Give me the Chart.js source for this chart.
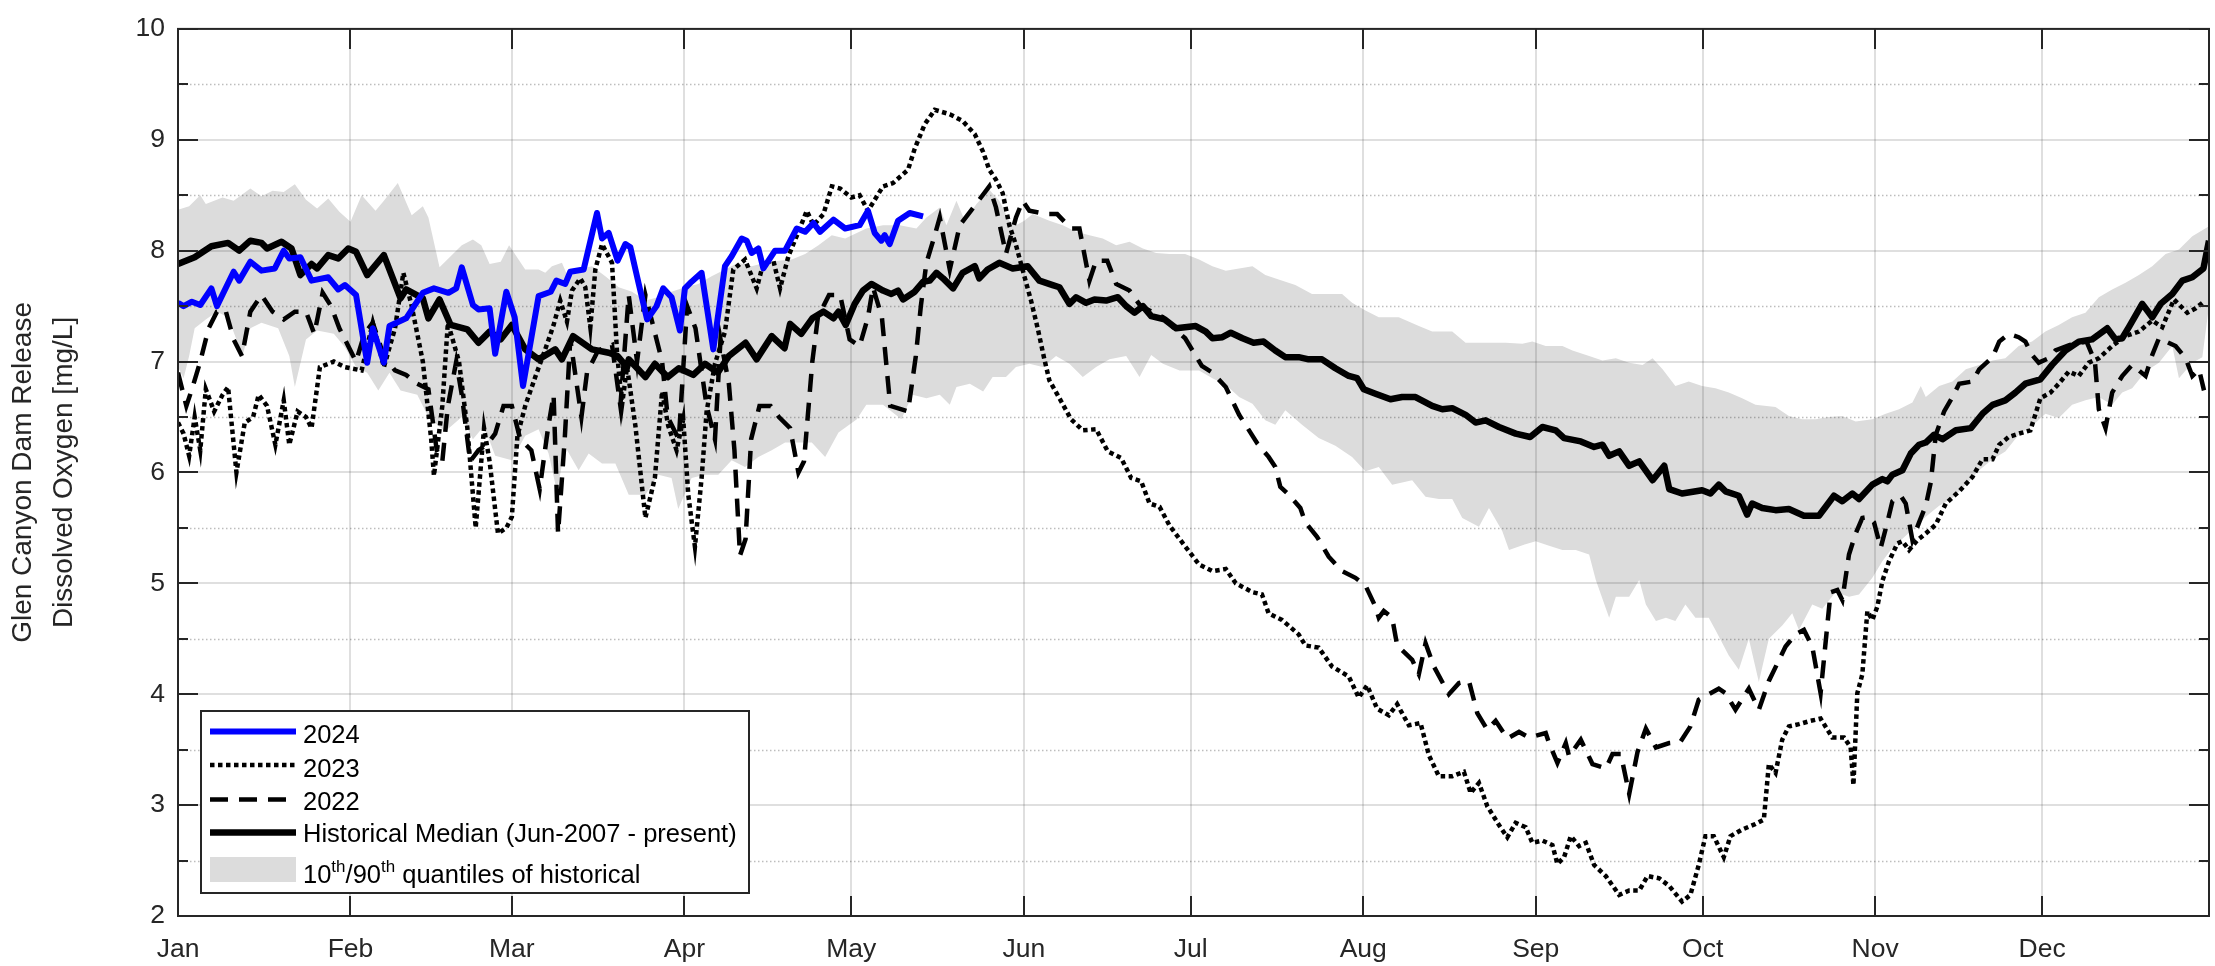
<!DOCTYPE html>
<html>
<head>
<meta charset="utf-8">
<script src="https://cdn.jsdelivr.net/npm/chart.js@4.4.1/dist/chart.umd.min.js"></script>
<style>
  html, body { margin: 0; padding: 0; background: #ffffff; }
  #wrap { width: 2215px; height: 966px; position: relative; }
</style>
</head>
<body>
<div id="wrap"><canvas id="chart"></canvas></div>
<script>
// x axis is day of year (0 = Jan 1, 365 = Dec 31)
const monthStarts = [0, 31, 60, 91, 121, 152, 182, 213, 244, 274, 305, 335];
const monthLabels = ['Jan', 'Feb', 'Mar', 'Apr', 'May', 'Jun', 'Jul', 'Aug', 'Sep', 'Oct', 'Nov', 'Dec'];
const yTicks = [2, 3, 4, 5, 6, 7, 8, 9, 10];

const days2024 = [0, 1, 2.5, 4, 6, 7, 10, 11, 13, 15, 17.4, 19, 20, 22, 24, 27, 28.8, 30, 32, 34, 35, 37, 38, 41, 44, 46, 48.6, 50, 51, 53, 54, 56, 57, 59, 60.5, 62, 64.8, 67, 68, 69.6, 70.5, 72.9, 75.3, 76.2, 77.4, 79, 80.4, 81.3, 82.8, 84.3, 86, 87.2, 88.7, 90.2, 91.1, 92.3, 94.1, 96.2, 98.3, 99.5, 101.3, 102.2, 103.1, 104.3, 105.2, 107.3, 109.1, 111.2, 112.7, 114.2, 115.4, 117.8, 119.9, 122.5, 124, 125.2, 126.4, 127, 127.9, 129.4, 131.5, 133.9];
const do2024 = [7.53, 7.50, 7.54, 7.51, 7.66, 7.50, 7.81, 7.73, 7.90, 7.82, 7.84, 8.00, 7.93, 7.94, 7.73, 7.76, 7.65, 7.69, 7.60, 6.99, 7.30, 6.99, 7.32, 7.39, 7.62, 7.66, 7.62, 7.66, 7.85, 7.51, 7.47, 7.48, 7.07, 7.63, 7.40, 6.78, 7.59, 7.63, 7.73, 7.70, 7.81, 7.83, 8.34, 8.11, 8.16, 7.91, 8.06, 8.03, 7.70, 7.38, 7.50, 7.66, 7.58, 7.28, 7.66, 7.72, 7.80, 7.11, 7.86, 7.95, 8.11, 8.09, 7.98, 8.02, 7.84, 8.00, 8.00, 8.20, 8.17, 8.25, 8.17, 8.28, 8.20, 8.23, 8.36, 8.16, 8.09, 8.14, 8.06, 8.27, 8.34, 8.31];

const days2023 = [0, 1, 2, 3, 4, 5, 6.5, 8, 9, 10.5, 12, 13.5, 14.5, 16, 17.5, 19, 20, 21.5, 23, 24, 25.5, 28, 30, 33, 35, 36, 37, 39, 40.5, 42, 44, 45.5, 46, 47.5, 48.5, 50.5, 52, 53.5, 55, 56, 57.5, 59, 60, 61, 62.4, 64.2, 66, 67.5, 68.7, 69.9, 70.8, 72.3, 73.2, 74.1, 75, 76.2, 78, 78.9, 79.8, 80.7, 82.2, 84, 85.7, 87, 88.1, 89.6, 90.8, 91.7, 92.9, 94.1, 95, 96.5, 98.3, 99.8, 101.9, 104, 105.2, 107, 108.2, 109.7, 111.5, 113, 114.2, 116, 117.5, 119, 121, 122.5, 124, 126.7, 128.5, 131.2, 132.4, 134.2, 136, 138.7, 141, 143.2, 144.7, 145.8, 147, 148.2, 149.4, 150.6, 152.1, 153.3, 154.5, 155.7, 156.6, 158.4, 160.5, 162.6, 165, 167.1, 169.5, 171.3, 173.1, 174.6, 176.4, 178.2, 180.6, 183.5, 185.9, 188.3, 190.1, 193.1, 194.8, 196, 198.4, 201.4, 202.6, 205, 207.4, 210.4, 212.2, 213.7, 215.5, 217.6, 219.1, 221.2, 223.3, 224.8, 226.6, 229, 231.1, 232.3, 233.8, 235.3, 237.4, 238.9, 240.4, 242.2, 243.4, 245.2, 247, 247.9, 249.1, 250.3, 251.8, 253, 254.5, 256.6, 259, 260.8, 262.6, 264.1, 266.2, 268, 270.3, 271.8, 273.3, 274.5, 276, 277.8, 279, 281.1, 283.5, 285, 285.9, 287.1, 288.3, 289.5, 291.3, 293.4, 295.2, 297.3, 299.4, 300.6, 301.1, 301.8, 302.7, 303.6, 304.5, 305.4, 306.3, 307.5, 309, 309.9, 311.1, 312.6, 314.1, 315.9, 317.7, 320.1, 322.5, 324.3, 326.1, 327.3, 329, 330.8, 332.9, 334.7, 336.5, 338, 339.8, 341.6, 343.4, 345.2, 347.6, 350, 352.4, 354.8, 356.6, 358.7, 361.1, 362.6, 364.1];
const do2023 = [6.45, 6.35, 6.15, 6.50, 6.20, 6.75, 6.55, 6.70, 6.77, 6.00, 6.45, 6.50, 6.70, 6.60, 6.25, 6.65, 6.25, 6.55, 6.50, 6.40, 6.95, 7.00, 6.95, 6.92, 7.35, 7.15, 6.95, 7.30, 7.80, 7.50, 7.00, 6.30, 5.97, 6.60, 7.35, 7.00, 6.40, 5.50, 6.40, 6.10, 5.45, 5.50, 5.60, 6.33, 6.60, 6.86, 7.11, 7.33, 7.55, 7.36, 7.64, 7.75, 7.67, 7.31, 7.83, 8.06, 7.89, 7.08, 6.61, 6.95, 6.42, 5.59, 5.95, 6.73, 6.42, 6.20, 6.48, 5.80, 5.33, 5.95, 6.55, 6.98, 7.27, 7.83, 7.92, 7.66, 7.89, 7.91, 7.66, 7.95, 8.17, 8.36, 8.23, 8.33, 8.58, 8.56, 8.48, 8.50, 8.36, 8.58, 8.61, 8.73, 8.92, 9.14, 9.27, 9.23, 9.17, 9.05, 8.89, 8.73, 8.64, 8.52, 8.23, 8.05, 7.77, 7.55, 7.30, 7.02, 6.83, 6.67, 6.48, 6.38, 6.39, 6.19, 6.13, 5.95, 5.92, 5.72, 5.69, 5.52, 5.36, 5.17, 5.11, 5.13, 5.00, 4.92, 4.90, 4.73, 4.67, 4.54, 4.44, 4.42, 4.25, 4.16, 3.97, 4.08, 3.87, 3.81, 3.91, 3.72, 3.74, 3.45, 3.26, 3.26, 3.30, 3.11, 3.20, 2.99, 2.82, 2.71, 2.84, 2.80, 2.66, 2.68, 2.64, 2.47, 2.53, 2.72, 2.63, 2.66, 2.46, 2.36, 2.19, 2.23, 2.23, 2.36, 2.34, 2.27, 2.13, 2.19, 2.46, 2.72, 2.72, 2.53, 2.72, 2.78, 2.83, 2.87, 3.37, 3.29, 3.59, 3.71, 3.73, 3.76, 3.78, 3.61, 3.61, 3.52, 3.18, 4.01, 4.18, 4.75, 4.67, 4.79, 5.02, 5.20, 5.36, 5.38, 5.30, 5.39, 5.45, 5.53, 5.72, 5.83, 5.96, 6.12, 6.12, 6.25, 6.32, 6.35, 6.38, 6.67, 6.72, 6.80, 6.91, 6.87, 6.99, 7.03, 7.14, 7.23, 7.27, 7.37, 7.31, 7.56, 7.44, 7.48, 7.54];

const days2022 = [0, 1.5, 2.5, 4, 5.5, 7, 8.5, 10, 11.5, 13, 15, 17, 19, 21, 23, 24.5, 26, 27.5, 29, 30.5, 32, 33.5, 35, 37, 39, 41, 43, 45, 46.5, 47.5, 48.5, 50, 51, 52.5, 54, 55.5, 57, 58.5, 60, 61.5, 63.5, 65, 66.5, 67.5, 68.3, 69.5, 70.5, 72.5, 73.5, 75.5, 78, 79.5, 81, 82.5, 84, 85, 87, 88, 90, 91.5, 93, 95, 96.5, 97.5, 99, 100, 101, 102, 103, 104.5, 106.5, 108, 110, 111.5, 112.5, 114, 115, 117, 119, 120.7, 122.5, 124, 124.9, 126.5, 128, 131.2, 132.6, 133.5, 134.5, 136, 136.9, 138.7, 140.5, 143.4, 145.8, 147, 148.8, 150.6, 151.8, 153, 156, 158, 160.5, 162, 163.8, 165, 167, 168.6, 171, 173, 175, 177, 179, 181, 184, 185.9, 188.3, 190.7, 194, 196, 197.2, 198.1, 199.6, 201.7, 202.6, 204.7, 206.8, 209.2, 211.6, 213.4, 215.2, 215.8, 216.7, 218.2, 219.1, 221.8, 223, 224.2, 225.7, 228.4, 230.2, 232, 233.5, 235.3, 236.8, 238.9, 241, 242.8, 245.8, 246.4, 247.9, 249.4, 250, 252.1, 254.2, 256.6, 257.8, 259.3, 260.8, 262.3, 263.8, 265.6, 268, 270, 271.8, 273.3, 275.1, 276.9, 278.1, 279.9, 282.3, 284.1, 285.9, 288.9, 290.7, 292.2, 293.7, 295.2, 296.4, 297, 298.2, 299.1, 300.3, 301.5, 302.7, 303.9, 304.8, 306, 307.2, 308.1, 309.6, 310.5, 311.7, 312.9, 314.1, 315, 315.9, 317.4, 318.9, 320.1, 322.5, 323.7, 326.1, 327.3, 329, 330.8, 332, 333.2, 334.4, 336.2, 337.4, 340, 343, 344.5, 345.2, 346.4, 347.6, 349.4, 351.2, 353.6, 354.8, 356, 359, 360.8, 362, 363.2, 364.1];
const do2022 = [6.90, 6.60, 6.75, 7.00, 7.30, 7.45, 7.47, 7.20, 7.05, 7.45, 7.60, 7.45, 7.38, 7.45, 7.45, 7.25, 7.62, 7.50, 7.30, 7.15, 7.00, 7.25, 7.35, 7.05, 6.92, 6.88, 6.80, 6.75, 6.20, 6.10, 6.60, 7.00, 6.70, 6.10, 6.20, 6.25, 6.35, 6.60, 6.60, 6.30, 6.20, 5.85, 6.40, 6.70, 5.45, 6.30, 7.20, 6.50, 6.90, 7.10, 7.15, 6.60, 7.60, 7.00, 7.60, 7.40, 7.00, 6.50, 6.30, 7.50, 7.30, 6.60, 6.30, 7.20, 6.80, 6.20, 5.25, 5.40, 6.30, 6.60, 6.60, 6.50, 6.40, 6.00, 6.10, 7.00, 7.40, 7.60, 7.60, 7.20, 7.14, 7.40, 7.67, 7.40, 6.60, 6.55, 7.05, 7.50, 7.89, 8.14, 8.30, 7.83, 8.23, 8.42, 8.58, 8.39, 7.97, 8.30, 8.45, 8.36, 8.33, 8.33, 8.20, 8.20, 7.73, 7.91, 7.91, 7.70, 7.64, 7.50, 7.45, 7.40, 7.30, 7.21, 6.96, 6.90, 6.77, 6.52, 6.26, 6.14, 6.05, 5.87, 5.80, 5.68, 5.55, 5.42, 5.24, 5.11, 5.05, 4.98, 4.79, 4.69, 4.75, 4.69, 4.44, 4.31, 4.18, 4.46, 4.25, 4.00, 4.10, 4.12, 3.83, 3.68, 3.76, 3.60, 3.66, 3.61, 3.65, 3.56, 3.38, 3.56, 3.44, 3.59, 3.37, 3.33, 3.46, 3.46, 3.10, 3.48, 3.69, 3.52, 3.56, 3.57, 3.71, 3.95, 4.00, 4.05, 4.01, 3.86, 4.05, 3.86, 4.12, 4.43, 4.54, 4.58, 4.43, 4.01, 4.62, 4.92, 4.94, 4.85, 5.26, 5.45, 5.59, 5.60, 5.55, 5.32, 5.55, 5.74, 5.79, 5.72, 5.39, 5.55, 5.70, 5.91, 6.34, 6.55, 6.68, 6.80, 6.82, 6.93, 7.04, 7.18, 7.25, 7.22, 7.18, 7.06, 6.99, 7.03, 7.10, 7.15, 7.18, 7.00, 6.57, 6.40, 6.72, 6.87, 6.97, 6.87, 7.06, 7.21, 7.14, 7.03, 6.87, 6.93, 6.74];

const daysMedian = [0, 3, 6, 9, 11, 13, 15, 16, 18.6, 20.4, 22, 24, 25, 27, 28.8, 30.6, 32, 34, 37, 40, 41, 44, 45, 47, 49, 52, 54, 56, 58, 60, 62.4, 64.8, 67.8, 69, 71, 74.4, 77.4, 79, 80.7, 81, 84, 85.7, 88, 90, 92.6, 94.7, 97, 99, 102, 104, 106.7, 109, 110, 112, 114, 116, 117.8, 118.7, 120, 121.6, 123.1, 124.6, 126.7, 128.2, 129.4, 130.3, 132.4, 133.9, 135.1, 136.3, 137.5, 139.3, 141, 143.2, 144, 145.5, 147.6, 150, 152.7, 154.8, 157.2, 158.4, 160.2, 161.4, 163.2, 164.7, 166.8, 168.9, 170.4, 171.9, 173.4, 174.9, 177.3, 179.4, 182.9, 184.7, 185.9, 187.7, 189.2, 191.3, 193.3, 195.1, 197.2, 199, 201.4, 203.2, 205.6, 208, 210.4, 211.9, 213.1, 215.2, 217.9, 220, 222.4, 225.4, 227.2, 229, 231.4, 233.2, 235, 237.4, 240.4, 243, 245.2, 247.6, 249.1, 252.1, 254.5, 256, 257.2, 259, 260.8, 262.6, 265, 267.1, 268, 270.3, 273.9, 275.4, 276.9, 278.1, 280.5, 282, 282.9, 284.7, 287.1, 289.5, 292.2, 294.9, 297.6, 299.1, 300.9, 302.1, 304.5, 306.3, 307.2, 308.1, 309.9, 311.4, 312.9, 314.1, 315.6, 317.1, 319.5, 322.2, 324.3, 326.1, 328.4, 330.2, 332, 334.7, 336.8, 339.2, 341.6, 344, 346.7, 348.2, 349.4, 350.6, 353, 354.8, 356.3, 358.4, 360.2, 362, 364, 365];
const doMedian = [7.88, 7.94, 8.04, 8.07, 8.00, 8.09, 8.07, 8.02, 8.08, 8.02, 7.78, 7.88, 7.84, 7.96, 7.93, 8.02, 7.99, 7.78, 7.96, 7.57, 7.65, 7.57, 7.39, 7.56, 7.33, 7.29, 7.17, 7.27, 7.20, 7.33, 7.11, 7.02, 7.11, 7.02, 7.23, 7.11, 7.08, 7.05, 6.95, 7.02, 6.86, 6.98, 6.86, 6.94, 6.88, 6.98, 6.90, 7.05, 7.17, 7.02, 7.23, 7.12, 7.34, 7.25, 7.39, 7.45, 7.39, 7.45, 7.33, 7.52, 7.64, 7.70, 7.64, 7.61, 7.64, 7.56, 7.63, 7.72, 7.73, 7.80, 7.75, 7.66, 7.80, 7.86, 7.75, 7.83, 7.89, 7.84, 7.86, 7.73, 7.69, 7.67, 7.52, 7.58, 7.53, 7.56, 7.55, 7.58, 7.50, 7.44, 7.50, 7.41, 7.38, 7.30, 7.32, 7.27, 7.21, 7.22, 7.26, 7.21, 7.17, 7.18, 7.10, 7.04, 7.04, 7.02, 7.02, 6.94, 6.87, 6.85, 6.75, 6.71, 6.66, 6.68, 6.68, 6.60, 6.57, 6.58, 6.52, 6.45, 6.47, 6.41, 6.35, 6.32, 6.41, 6.38, 6.31, 6.28, 6.23, 6.25, 6.15, 6.19, 6.06, 6.10, 5.93, 6.06, 5.85, 5.81, 5.84, 5.81, 5.89, 5.83, 5.79, 5.62, 5.72, 5.68, 5.66, 5.67, 5.61, 5.61, 5.79, 5.74, 5.81, 5.76, 5.89, 5.94, 5.92, 5.98, 6.02, 6.17, 6.25, 6.27, 6.34, 6.30, 6.38, 6.40, 6.53, 6.61, 6.65, 6.72, 6.80, 6.84, 6.97, 7.10, 7.18, 7.20, 7.30, 7.20, 7.21, 7.31, 7.52, 7.40, 7.52, 7.61, 7.73, 7.76, 7.84, 8.09];

const daysQ90 = [0, 2, 4, 5, 8, 10, 13, 15, 17, 19, 21, 23, 25, 27, 29, 31, 33, 35.5, 37, 39.5, 42, 44, 45, 47, 49, 51, 53, 54.5, 56, 58, 59.5, 62.4, 64.8, 66, 67.2, 69, 70.2, 72, 74.4, 76.8, 79.2, 81.6, 84, 86.3, 88.7, 91.1, 93.5, 95.9, 98.3, 100.7, 103.1, 105.5, 107.9, 110.3, 112.7, 115.1, 117.5, 119.9, 123.7, 126.7, 129.7, 132.7, 134.5, 136.9, 138.1, 139.9, 141.4, 143.5, 145.8, 147.6, 149.4, 150.6, 152.1, 153.6, 156.6, 159, 161.4, 163.8, 166.2, 168.6, 171, 173.4, 175.8, 178.2, 181, 183.5, 185.9, 188.3, 190.7, 193.1, 195.4, 197.8, 200.8, 203.8, 206.2, 209.2, 211, 213.4, 215.8, 219.4, 223, 225.4, 229, 231.4, 235, 238.6, 241.6, 243.4, 245.8, 248.8, 250.6, 253.6, 256, 258.4, 260.8, 263.2, 265, 266.8, 269.1, 271.5, 273.9, 276.3, 278.7, 281.1, 283.5, 287.1, 289.5, 291.9, 294.3, 296.7, 299.1, 301.5, 304.5, 306.9, 309.3, 311.7, 313.2, 314.1, 316.5, 318.9, 321.3, 323.7, 326.1, 328.4, 330.8, 333.2, 335.6, 338, 340.4, 342.8, 345.2, 347.6, 350, 352.4, 354.8, 357.2, 359.6, 362, 365];
const doQ90 = [8.37, 8.40, 8.50, 8.42, 8.48, 8.45, 8.56, 8.49, 8.54, 8.53, 8.60, 8.46, 8.38, 8.47, 8.35, 8.26, 8.50, 8.36, 8.45, 8.61, 8.32, 8.40, 8.30, 7.85, 7.95, 8.05, 8.10, 8.05, 7.88, 7.90, 8.05, 7.83, 7.83, 7.80, 7.86, 7.89, 7.75, 7.83, 7.86, 7.77, 7.67, 7.63, 7.55, 7.58, 7.63, 7.67, 7.70, 7.77, 7.83, 7.89, 7.86, 7.89, 7.91, 7.92, 7.97, 8.05, 8.14, 8.11, 8.20, 8.23, 8.23, 8.20, 8.30, 8.39, 8.23, 8.45, 8.27, 8.42, 8.55, 8.45, 8.27, 8.23, 8.27, 8.33, 8.27, 8.23, 8.17, 8.14, 8.11, 8.05, 8.08, 8.02, 7.98, 7.97, 7.97, 7.92, 7.86, 7.82, 7.84, 7.86, 7.78, 7.74, 7.69, 7.61, 7.61, 7.61, 7.53, 7.46, 7.40, 7.40, 7.32, 7.27, 7.27, 7.17, 7.17, 7.17, 7.16, 7.18, 7.14, 7.14, 7.10, 7.05, 7.01, 7.03, 6.99, 6.97, 7.03, 6.93, 6.78, 6.82, 6.78, 6.76, 6.72, 6.67, 6.61, 6.59, 6.51, 6.48, 6.48, 6.50, 6.51, 6.46, 6.48, 6.53, 6.57, 6.63, 6.78, 6.68, 6.78, 6.82, 6.93, 6.97, 7.01, 7.03, 7.14, 7.18, 7.27, 7.33, 7.40, 7.44, 7.58, 7.65, 7.71, 7.78, 7.86, 7.97, 8.01, 8.13, 8.22];

const daysQ10 = [0, 1, 2, 3, 5, 7, 9, 10.5, 11.5, 13, 15, 18, 20, 21, 23, 25, 28, 30, 32, 34, 36, 38, 40, 43, 45, 48, 51, 53, 55, 57, 60, 62.4, 64.8, 66.6, 68.1, 69.6, 72, 73.8, 76.2, 78.6, 81, 84, 86.3, 88.7, 89.9, 92.3, 94.7, 97.1, 99.5, 101.9, 104.3, 106.7, 109.1, 111.5, 113.9, 116.3, 118.7, 122, 123.7, 126.7, 130, 132, 134.5, 136.9, 138.7, 139.9, 142.3, 144.7, 146.4, 148.8, 150.6, 153, 155.4, 157.8, 160.2, 162.6, 165, 167.4, 170.4, 172.8, 174.9, 177, 180, 183.5, 185.9, 188.3, 190.7, 193.1, 195.4, 197.2, 199, 202, 205, 208, 211, 213.4, 215.8, 218.2, 221.8, 224.2, 226.6, 229, 230.8, 233.8, 235.6, 238, 239.2, 242, 244, 246.4, 248.8, 251.2, 253.6, 254.8, 257.2, 258.4, 260.8, 262.6, 263.8, 265.6, 267.4, 269.1, 270.9, 272.7, 275.1, 276.3, 278.7, 280.5, 282.3, 284.1, 285.9, 288.3, 290.1, 291.3, 293.7, 295.5, 297.9, 300.3, 302.1, 304.5, 306.3, 308.1, 310.5, 312.3, 314.1, 316.5, 318.9, 321.3, 323.7, 326.1, 328.4, 330.8, 333.2, 335.6, 338, 340.4, 342.8, 345.2, 347.6, 349.4, 351.2, 353.6, 356, 358.4, 359.6, 362, 363.8, 365];
const doQ10 = [6.95, 6.85, 7.05, 7.30, 7.38, 7.45, 7.40, 7.20, 7.04, 7.30, 7.35, 7.30, 7.05, 6.77, 7.20, 7.28, 7.25, 7.13, 6.95, 6.90, 6.74, 6.90, 6.74, 6.70, 6.50, 6.37, 6.50, 6.30, 6.42, 6.15, 6.11, 6.33, 6.39, 6.17, 5.83, 6.23, 6.02, 6.17, 6.08, 6.08, 5.80, 5.80, 5.98, 5.95, 5.67, 5.95, 5.98, 5.98, 6.11, 6.05, 6.14, 6.20, 6.27, 6.27, 6.27, 6.14, 6.36, 6.48, 6.61, 6.61, 6.48, 6.70, 6.67, 6.70, 6.61, 6.77, 6.80, 6.73, 6.86, 6.86, 6.95, 6.98, 6.95, 7.05, 6.98, 6.86, 6.95, 7.02, 7.05, 6.86, 7.06, 6.98, 6.92, 6.92, 6.85, 6.79, 6.68, 6.62, 6.47, 6.43, 6.56, 6.43, 6.31, 6.24, 6.14, 6.01, 6.05, 5.89, 5.93, 5.78, 5.76, 5.76, 5.59, 5.51, 5.68, 5.47, 5.30, 5.35, 5.38, 5.34, 5.30, 5.30, 5.26, 5.03, 4.69, 4.88, 4.88, 5.03, 4.81, 4.66, 4.69, 4.66, 4.81, 4.69, 4.69, 4.58, 4.35, 4.22, 4.50, 4.11, 4.50, 4.62, 4.73, 4.58, 4.81, 4.77, 4.92, 4.88, 4.90, 5.05, 5.20, 5.32, 5.43, 5.51, 5.60, 5.70, 5.77, 5.89, 6.02, 6.12, 6.19, 6.34, 6.42, 6.53, 6.49, 6.61, 6.65, 6.68, 6.61, 6.72, 6.76, 6.91, 6.99, 7.14, 6.85, 6.99, 7.04, 7.50];

const seriesNames = ['2024', '2023', '2022', 'Historical Median (Jun-2007 - present)'];

const FONT = '"Liberation Sans", Arial, Helvetica, sans-serif';
const AXIS_COLOR = '#262626';

function toPoints(days, vals) {
    return days.map((d, i) => ({ x: d, y: vals[i] }));
}

// grid over the quantile band, under the lines
const gridPlugin = {
    id: 'matlabGrid',
    afterDatasetDraw(chart, args) {
        if (args.index !== 4) {
            return;
        }
        const ctx = chart.ctx;
        const area = chart.chartArea;
        const xs = chart.scales.x;
        const ys = chart.scales.y;
        ctx.save();
        // minor y grid, dotted
        ctx.strokeStyle = 'rgba(38,38,38,0.3)';
        ctx.lineWidth = 1.5;
        ctx.setLineDash([1.5, 2.5]);
        for (let v = 2.5; v < 10; v += 1) {
            const y = Math.round(ys.getPixelForValue(v)) + 0.5;
            ctx.beginPath();
            ctx.moveTo(area.left, y);
            ctx.lineTo(area.right, y);
            ctx.stroke();
        }
        // major grid
        ctx.setLineDash([]);
        ctx.strokeStyle = 'rgba(38,38,38,0.15)';
        ctx.lineWidth = 2;
        yTicks.forEach(v => {
            const y = Math.round(ys.getPixelForValue(v));
            ctx.beginPath();
            ctx.moveTo(area.left, y);
            ctx.lineTo(area.right, y);
            ctx.stroke();
        });
        monthStarts.forEach(d => {
            const x = Math.round(xs.getPixelForValue(d));
            ctx.beginPath();
            ctx.moveTo(x, area.top);
            ctx.lineTo(x, area.bottom);
            ctx.stroke();
        });
        ctx.restore();
    }
};

// box, inward ticks, y label and legend
const framePlugin = {
    id: 'matlabFrame',
    afterDraw(chart) {
        const ctx = chart.ctx;
        const area = chart.chartArea;
        const xs = chart.scales.x;
        const ys = chart.scales.y;
        ctx.save();
        ctx.strokeStyle = AXIS_COLOR;
        ctx.lineWidth = 2;
        ctx.strokeRect(area.left, area.top, area.right - area.left, area.bottom - area.top);

        ctx.beginPath();
        for (let v = 2; v <= 10; v += 0.5) {
            const y = Math.round(ys.getPixelForValue(v));
            const len = Number.isInteger(v) ? 20 : 10;
            ctx.moveTo(area.left, y);
            ctx.lineTo(area.left + len, y);
            ctx.moveTo(area.right, y);
            ctx.lineTo(area.right - len, y);
        }
        monthStarts.forEach(d => {
            const x = Math.round(xs.getPixelForValue(d));
            ctx.moveTo(x, area.bottom);
            ctx.lineTo(x, area.bottom - 20);
            ctx.moveTo(x, area.top);
            ctx.lineTo(x, area.top + 20);
        });
        ctx.stroke();

        // y axis label, two lines
        ctx.fillStyle = AXIS_COLOR;
        ctx.font = '28px ' + FONT;
        ctx.textAlign = 'center';
        ctx.textBaseline = 'alphabetic';
        const midY = (area.top + area.bottom) / 2;
        [['Glen Canyon Dam Release', 31], ['Dissolved Oxygen [mg/L]', 72]].forEach(([txt, bx]) => {
            ctx.save();
            ctx.translate(bx, midY);
            ctx.rotate(-Math.PI / 2);
            ctx.fillText(txt, 0, 0);
            ctx.restore();
        });

        // legend
        const lx = 201, ly = 711, lw = 548, lh = 182;
        ctx.fillStyle = '#ffffff';
        ctx.fillRect(lx, ly, lw, lh);
        ctx.strokeStyle = AXIS_COLOR;
        ctx.lineWidth = 2;
        ctx.strokeRect(lx, ly, lw, lh);

        const sx0 = 210, sx1 = 296, tx = 303;
        const rows = [
            { y: 731.5, base: 743, color: '#0000ff', width: 6, dash: [] },
            { y: 765, base: 777, color: '#000000', width: 4.5, dash: [4.5, 3.5] },
            { y: 799.5, base: 810, color: '#000000', width: 4.5, dash: [18, 11] },
            { y: 832.5, base: 842, color: '#000000', width: 6.5, dash: [] }
        ];
        ctx.font = '25.5px ' + FONT;
        ctx.textAlign = 'left';
        rows.forEach((r, i) => {
            ctx.beginPath();
            ctx.strokeStyle = r.color;
            ctx.lineWidth = r.width;
            ctx.setLineDash(r.dash);
            ctx.moveTo(sx0, r.y);
            ctx.lineTo(sx1, r.y);
            ctx.stroke();
            ctx.fillStyle = '#000000';
            ctx.fillText(seriesNames[i], tx, r.base);
        });
        ctx.setLineDash([]);
        ctx.fillStyle = '#dcdcdc';
        ctx.fillRect(sx0, 857, sx1 - sx0, 25);

        // 10th/90th with superscripts
        ctx.fillStyle = '#000000';
        let cx = tx;
        const base = 883;
        const parts = [['10', false], ['th', true], ['/90', false], ['th', true], [' quantiles of historical', false]];
        parts.forEach(([t, sup]) => {
            ctx.font = (sup ? '17px ' : '25.5px ') + FONT;
            ctx.fillText(t, cx, sup ? base - 11 : base);
            cx += ctx.measureText(t).width;
        });
        ctx.restore();
    }
};

const ctx = document.getElementById('chart').getContext('2d');
const chart = new Chart(ctx, {
    type: 'line',
    data: {
        datasets: [
            {
                label: seriesNames[0],
                data: toPoints(days2024, do2024),
                borderColor: '#0000ff',
                borderWidth: 6,
                borderJoinStyle: 'round',
                pointRadius: 0,
                fill: false
            },
            {
                label: seriesNames[1],
                data: toPoints(days2023, do2023),
                borderColor: '#000000',
                borderWidth: 4.5,
                borderDash: [4.5, 3.5],
                pointRadius: 0,
                fill: false
            },
            {
                label: seriesNames[2],
                data: toPoints(days2022, do2022),
                borderColor: '#000000',
                borderWidth: 4.5,
                borderDash: [18, 11],
                pointRadius: 0,
                fill: false
            },
            {
                label: seriesNames[3],
                data: toPoints(daysMedian, doMedian),
                borderColor: '#000000',
                borderWidth: 6.5,
                borderJoinStyle: 'round',
                pointRadius: 0,
                fill: false
            },
            {
                label: '10th quantile',
                data: toPoints(daysQ10, doQ10),
                borderColor: 'rgba(0,0,0,0)',
                borderWidth: 0,
                pointRadius: 0,
                fill: false
            },
            {
                label: '90th quantile',
                data: toPoints(daysQ90, doQ90),
                borderColor: 'rgba(0,0,0,0)',
                borderWidth: 0,
                pointRadius: 0,
                backgroundColor: '#dcdcdc',
                fill: 4
            }
        ]
    },
    options: {
        responsive: true,
        maintainAspectRatio: false,
        animation: false,
        events: [],
        layout: {
            padding: { top: 17, right: 6, left: 0, bottom: 0 }
        },
        scales: {
            x: {
                type: 'linear',
                min: 0,
                max: 365,
                grid: { display: false, drawTicks: false },
                border: { display: false },
                afterBuildTicks: axis => {
                    axis.ticks = monthStarts.map(v => ({ value: v }));
                },
                afterFit: scale => {
                    scale.height = 50;
                },
                ticks: {
                    autoSkip: false,
                    maxRotation: 0,
                    padding: 18,
                    color: AXIS_COLOR,
                    font: { family: FONT, size: 26.5 },
                    callback: value => monthLabels[monthStarts.indexOf(value)]
                }
            },
            y: {
                min: 2,
                max: 10,
                grid: { display: false, drawTicks: false },
                border: { display: false },
                afterBuildTicks: axis => {
                    axis.ticks = yTicks.map(v => ({ value: v }));
                },
                afterFit: scale => {
                    scale.width = 178;
                },
                ticks: {
                    padding: 13,
                    color: AXIS_COLOR,
                    font: { family: FONT, size: 26.5 }
                }
            }
        },
        plugins: {
            legend: { display: false },
            tooltip: { enabled: false }
        }
    },
    plugins: [gridPlugin, framePlugin]
});
</script>
</body>
</html>
